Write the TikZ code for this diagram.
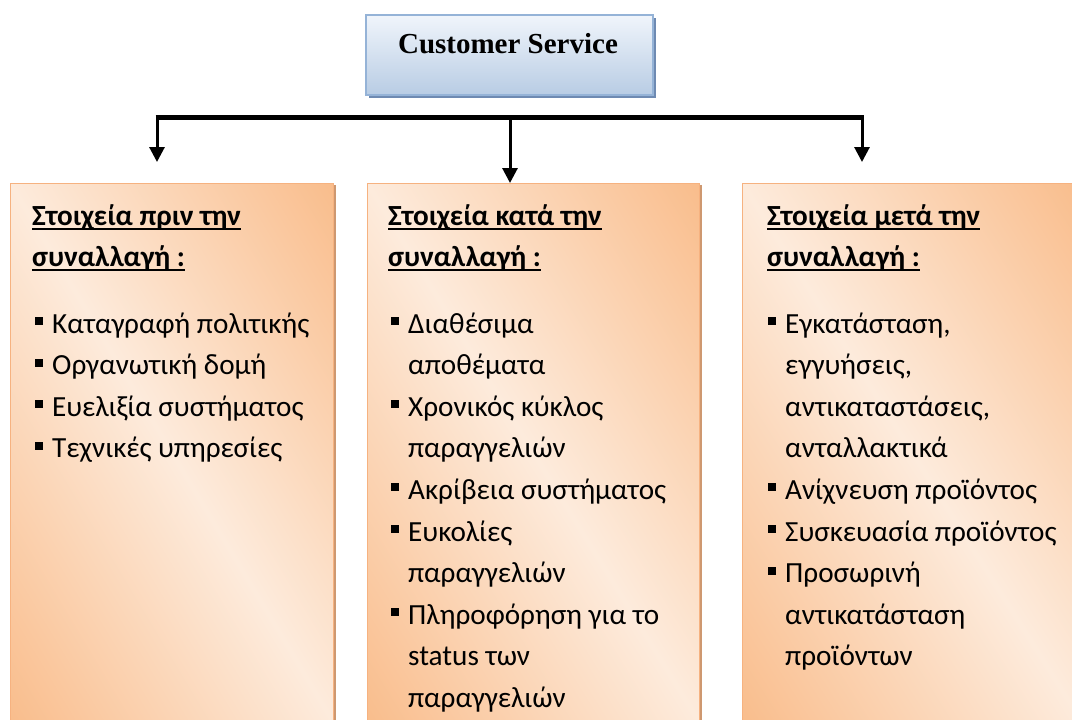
\documentclass[tikz,border=0pt]{standalone}
\usepackage{fontspec}
\setmainfont{Carlito}
\newfontfamily\headfont{Liberation Serif}
\usetikzlibrary{arrows.meta,shadows}

\definecolor{peachdark}{RGB}{249,189,140}
\definecolor{peachlight}{RGB}{253,235,220}
\definecolor{peachedge}{RGB}{246,178,128}
\definecolor{peachshadow}{RGB}{206,152,112}
\definecolor{bluetop}{RGB}{240,245,251}
\definecolor{bluebottom}{RGB}{184,204,228}
\definecolor{blueedge}{RGB}{149,179,215}
\definecolor{blueshadow}{RGB}{110,138,178}

% underline drawn through the descenders, as a word processor does
\newcommand\ulin[1]{\setbox0\hbox{#1}\rlap{\rule[-4.5pt]{\wd0}{1.8pt}}\box0}
% small square bullet
\newcommand\sqbullet{\rule[8pt]{8pt}{8pt}}

% diagonal peach gradient inside a named box:
% #1 node name, #2/#3 centre, #4 half extent across the diagonal, #5 angle
\newcommand\peachshade[5]{%
  \begin{scope}
    \clip (#1.north west) rectangle (#1.south east);
    \begin{scope}[transform canvas={rotate around={#5:(#2,#3)}}]
      \shade[left color=peachdark, right color=peachdark, middle color=peachlight]
        (#2-#4,#3-800) rectangle (#2+#4,#3+800);
    \end{scope}
  \end{scope}
  \draw[peachedge, line width=0.8pt] (#1.north west) rectangle (#1.south east);
}

\begin{document}
\begin{tikzpicture}[x=1pt,y=-1pt,
  headbox/.style={draw=blueedge, line width=1.5pt,
    top color=bluetop, bottom color=bluebottom,
    minimum width=287pt, minimum height=80pt, inner sep=0pt,
    drop shadow={shadow xshift=3pt, shadow yshift=-3pt, fill=blueshadow, opacity=1}},
  colbox/.style={draw=peachedge, fill=peachdark, line width=0.8pt, anchor=north west,
    inner sep=0pt, minimum height=539pt,
    drop shadow={shadow xshift=3pt, shadow yshift=-2pt, fill=peachshadow, opacity=1}},
  ttl/.style={anchor=base west, inner sep=0pt, font=\fontsize{29.2}{34}\selectfont\bfseries},
  itm/.style={anchor=base west, inner sep=0pt, font=\fontsize{29.2}{34}\selectfont},
  bus/.style={line width=5pt},
  drop/.style={line width=3pt, -{Triangle[width=15pt,length=15pt]}}
]
\useasboundingbox (0,0) rectangle (1072,720);
\clip (0,0) rectangle (1072,720);
\fill[white] (0,0) rectangle (1072,720);

% header
\node[headbox] (cs) at (509.5,55) {};
\node[anchor=base, inner sep=0pt, font=\headfont\bfseries\fontsize{29}{32}\selectfont]
  (cstext) at (508,53) {Customer Service};

% three columns
\node[colbox, minimum width=323pt] (pre)  at (10,183)  {};
\node[colbox, minimum width=332pt] (dur)  at (367,183) {};
\node[colbox, minimum width=340pt] (post) at (742,183) {};
\peachshade{pre}{171.5}{452.5}{277}{30.93}
\peachshade{dur}{533}{452.5}{282.7}{31.63}
\peachshade{post}{912}{452.5}{287.6}{32.24}

% connectors
\coordinate (busL) at (155.5,117);
\coordinate (busM) at (510,117);
\coordinate (busR) at (863.5,117);
\coordinate (tipL) at (157,162);
\coordinate (tipR) at (862,162);
\draw[bus] (busL) -- (busR);
\draw[drop] (busL -| tipL) -- (tipL);
\draw[drop] (busM) -- (dur.north -| busM);
\draw[drop] (busR -| tipR) -- (tipR);

% titles
\node[ttl] (preT1)  at (32,225)  {\ulin{Στοιχεία πριν την}};
\node[ttl] (preT2)  at (32,266)  {\ulin{συναλλαγή :}};
\node[ttl] (durT1)  at (388,225) {\ulin{Στοιχεία κατά την}};
\node[ttl] (durT2)  at (388,266) {\ulin{συναλλαγή :}};
\node[ttl] (postT1) at (767,225) {\ulin{Στοιχεία μετά την}};
\node[ttl] (postT2) at (767,266) {\ulin{συναλλαγή :}};

% item lists (1 = bulleted line, 0 = continuation line)
\foreach \k/\t [count=\i from 0] in {1/{Καταγραφή πολιτικής}, 1/{Οργανωτική δομή},
    1/{Ευελιξία συστήματος}, 1/{Τεχνικές υπηρεσίες}}
  \node[itm] (pre-\i) at (52,333+41.6*\i)
    {\ifnum\k=1 \llap{\sqbullet\hspace{9pt}}\fi\t};

\foreach \k/\t [count=\i from 0] in {1/{Διαθέσιμα}, 0/{αποθέματα},
    1/{Χρονικός κύκλος}, 0/{παραγγελιών}, 1/{Ακρίβεια συστήματος},
    1/{Ευκολίες}, 0/{παραγγελιών}, 1/{Πληροφόρηση για το},
    0/{status των}, 0/{παραγγελιών}}
  \node[itm] (dur-\i) at (408,333+41.6*\i)
    {\ifnum\k=1 \llap{\sqbullet\hspace{9pt}}\fi\t};

\foreach \k/\t [count=\i from 0] in {1/{Εγκατάσταση,}, 0/{εγγυήσεις,},
    0/{αντικαταστάσεις,}, 0/{ανταλλακτικά}, 1/{Ανίχνευση προϊόντος},
    1/{Συσκευασία προϊόντος}, 1/{Προσωρινή}, 0/{αντικατάσταση},
    0/{προϊόντων}}
  \node[itm] (post-\i) at (785,333+41.6*\i)
    {\ifnum\k=1 \llap{\sqbullet\hspace{9pt}}\fi\t};
\end{tikzpicture}
\end{document}
